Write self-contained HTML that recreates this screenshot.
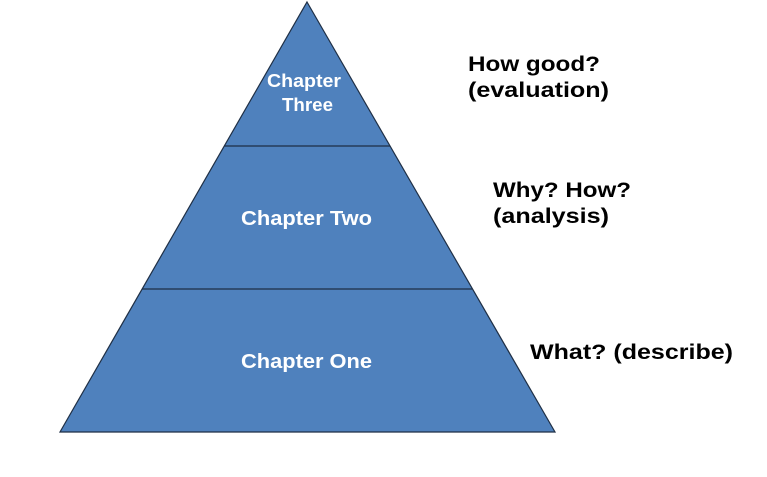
<!DOCTYPE html>
<html><head><meta charset="utf-8"><style>
html,body{margin:0;padding:0;background:#fff;}
svg{display:block;}
text{font-family:"Liberation Sans",Arial,sans-serif;font-weight:bold;}
</style></head><body>
<svg width="767" height="477" viewBox="0 0 767 477" xmlns="http://www.w3.org/2000/svg">
<polygon points="307,2 555,432 60,432" fill="#4f81bd" stroke="#1f2f45" stroke-width="1.2"/>
<line x1="224" y1="146" x2="390" y2="146" stroke="#1f2f45" stroke-width="1.2"/>
<line x1="142" y1="289" x2="472" y2="289" stroke="#1f2f45" stroke-width="1.2"/>
<text x="267" y="87" fill="#fff" font-size="18" textLength="74" lengthAdjust="spacingAndGlyphs">Chapter</text>
<text x="282" y="111" fill="#fff" font-size="18" textLength="51" lengthAdjust="spacingAndGlyphs">Three</text>
<text x="241" y="225" fill="#fff" font-size="20" textLength="131" lengthAdjust="spacingAndGlyphs">Chapter Two</text>
<text x="241" y="368" fill="#fff" font-size="20" textLength="131" lengthAdjust="spacingAndGlyphs">Chapter One</text>
<text x="468" y="71" fill="#000" font-size="21" textLength="132" lengthAdjust="spacingAndGlyphs">How good?</text>
<text x="468" y="97" fill="#000" font-size="21" textLength="141" lengthAdjust="spacingAndGlyphs">(evaluation)</text>
<text x="493" y="197" fill="#000" font-size="21" textLength="138" lengthAdjust="spacingAndGlyphs">Why? How?</text>
<text x="493" y="223" fill="#000" font-size="21" textLength="116" lengthAdjust="spacingAndGlyphs">(analysis)</text>
<text x="530" y="359" fill="#000" font-size="21" textLength="203" lengthAdjust="spacingAndGlyphs">What? (describe)</text>
</svg>
</body></html>
